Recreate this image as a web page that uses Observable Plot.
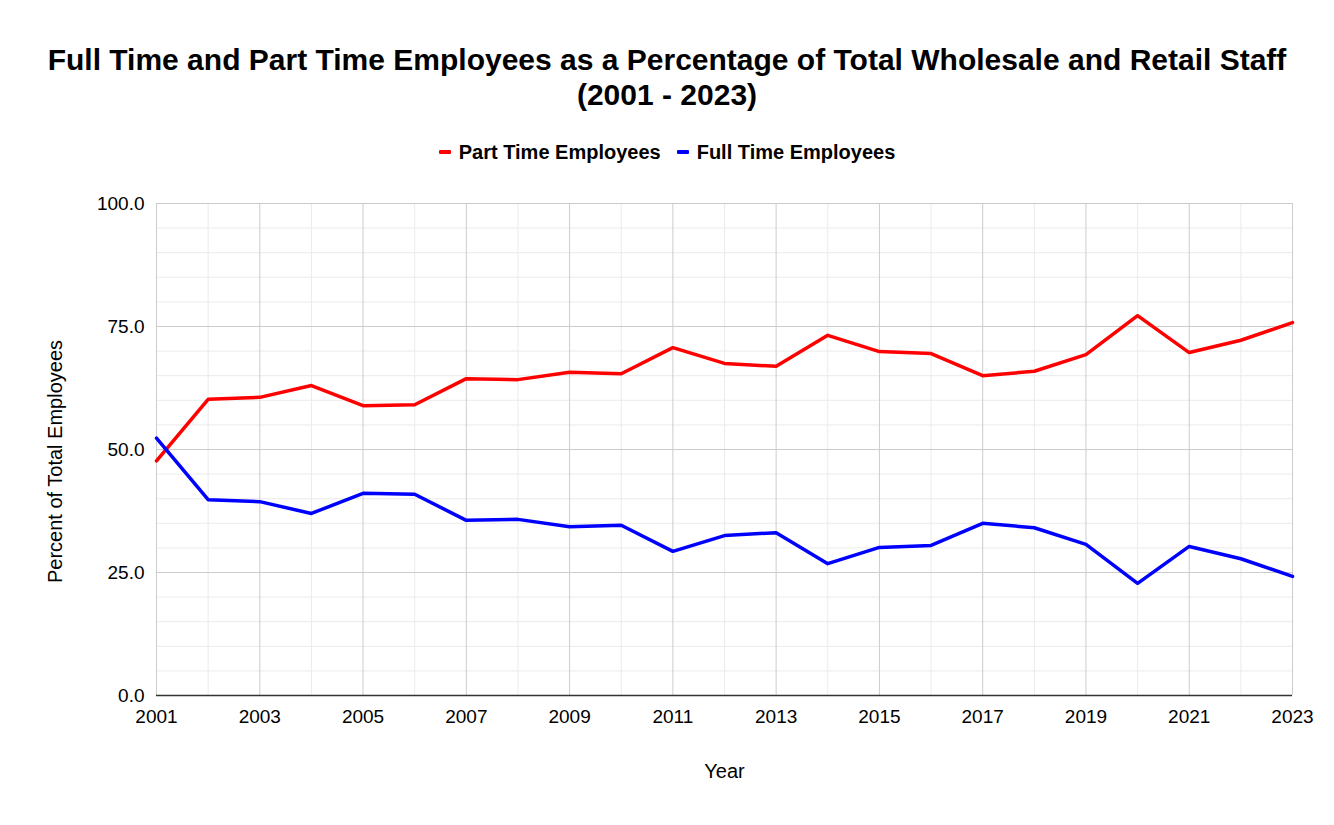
<!DOCTYPE html>
<html>
<head>
<meta charset="utf-8">
<script src="https://cdn.jsdelivr.net/npm/d3@7"></script>
<script src="https://cdn.jsdelivr.net/npm/@observablehq/plot@0.6"></script>
<style>
  html, body { margin: 0; padding: 0; background: #fff; }
  body { width: 1334px; height: 825px; position: relative; font-family: "Liberation Sans", Arial, sans-serif; overflow: hidden; }
  #title { position: absolute; top: 42px; left: 0; width: 1334px; text-align: center; font-weight: bold; font-size: 30px; line-height: 35px; color: #000; }
  #legend { position: absolute; top: 140px; left: 0; width: 1334px; display: flex; justify-content: center; align-items: center; font-weight: bold; font-size: 20px; line-height: 24px; color: #000; }
  #legend .item { display: flex; align-items: center; margin: 0 8px; }
  #legend .sw { display: inline-block; width: 12px; height: 4px; margin-right: 8px; border-radius: 1px; }
  #chart { position: absolute; top: 180px; left: 0; }
</style>
</head>
<body>
<div id="title">Full Time and Part Time Employees as a Percentage of Total Wholesale and Retail Staff<br>(2001 - 2023)</div>
<div id="legend"></div>
<div id="chart"></div>
<script>
const years = [2001,2002,2003,2004,2005,2006,2007,2008,2009,2010,2011,2012,2013,2014,2015,2016,2017,2018,2019,2020,2021,2022,2023];
const partTime = [47.7,60.2,60.6,63.0,58.9,59.1,64.4,64.2,65.7,65.4,70.7,67.5,66.9,73.2,69.9,69.5,65.0,65.9,69.3,77.2,69.7,72.2,75.8];
const fullTime = [52.3,39.8,39.4,37.0,41.1,40.9,35.6,35.8,34.3,34.6,29.3,32.5,33.1,26.8,30.1,30.5,35.0,34.1,30.7,22.8,30.3,27.8,24.2];
const seriesNames = ["Part Time Employees", "Full Time Employees"];
const seriesColors = ["#ff0000", "#0000ff"];
const yTicks = [0, 25, 50, 75, 100];
const xTicks = [2001,2003,2005,2007,2009,2011,2013,2015,2017,2019,2021,2023];
const xLabel = "Year";
const yLabel = "Percent of Total Employees";

const rows = [];
years.forEach((yr, i) => {
  rows.push({year: yr, value: partTime[i], series: seriesNames[0]});
  rows.push({year: yr, value: fullTime[i], series: seriesNames[1]});
});

const minorY = d3.range(0, 101, 5).filter(v => v % 25 !== 0);
const minorX = years.filter(y => !xTicks.includes(y));

const legend = document.getElementById("legend");
seriesNames.forEach((n, i) => {
  const s = document.createElement("span");
  s.className = "item";
  s.innerHTML = `<span class="sw" style="background:${seriesColors[i]}"></span><span>${n}</span>`;
  legend.appendChild(s);
});

const chart = Plot.plot({
  width: 1334,
  height: 625,
  marginLeft: 156,
  marginRight: 42,
  marginTop: 23,
  marginBottom: 110,
  style: {fontFamily: "Liberation Sans, Arial, sans-serif", fontSize: "19px", color: "#000", background: "#fff"},
  x: {domain: [2001, 2023]},
  y: {domain: [0, 100]},
  color: {domain: seriesNames, range: seriesColors},
  marks: [
    Plot.ruleY(minorY, {stroke: "#ebebeb", strokeWidth: 1}),
    Plot.ruleX(minorX, {stroke: "#ebebeb", strokeWidth: 1}),
    Plot.ruleY(yTicks, {stroke: "#cccccc", strokeWidth: 1}),
    Plot.ruleX(xTicks, {stroke: "#cccccc", strokeWidth: 1}),
    Plot.ruleY([0], {stroke: "#333333", strokeWidth: 1.5}),
    Plot.line(rows, {x: "year", y: "value", z: "series", stroke: "series", strokeWidth: 3.5, strokeLinejoin: "round"}),
    Plot.axisX({ticks: xTicks, tickFormat: "d", tickSize: 0, tickPadding: 14, fontSize: 19, label: null}),
    Plot.axisY({ticks: yTicks, tickFormat: d => d.toFixed(1), tickSize: 0, tickPadding: 12, fontSize: 19, label: null}),
    Plot.text([xLabel], {frameAnchor: "bottom", lineAnchor: "middle", dy: 76, fontSize: 20, fill: "#000"}),
    Plot.text([yLabel], {frameAnchor: "left", textAnchor: "middle", lineAnchor: "middle", rotate: -90, dx: -101, dy: 12, fontSize: 20, fill: "#000"})
  ]
});
document.getElementById("chart").appendChild(chart);
</script>
</body>
</html>
